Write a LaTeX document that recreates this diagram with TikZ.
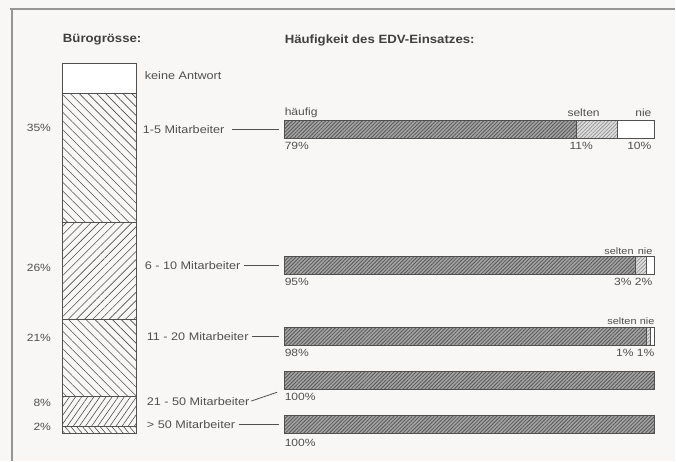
\documentclass[tikz,border=0pt]{standalone}
\usepackage{fontspec}
\setmainfont{Liberation Sans}
\newfontfamily\labelfont[FakeStretch=1.15]{Liberation Sans}
\newfontfamily\headfont[FakeStretch=1.1]{Liberation Sans}
\usetikzlibrary{positioning, patterns.meta}
\definecolor{paper}{RGB}{249,247,246}
\definecolor{ink}{RGB}{80,80,80}
\definecolor{rule}{RGB}{150,150,150}

\begin{document}
\begin{tikzpicture}[
    x=1pt, y=-1pt,
    every node/.style={inner sep=0pt, outer sep=0pt, text=ink},
    head/.style={anchor=west, text=black!75, font=\headfont\bfseries\fontsize{12}{14}\selectfont},
    group/.style={anchor=west, font=\labelfont\fontsize{11}{13}\selectfont},
    pct/.style={anchor=east, font=\labelfont\fontsize{10.5}{12}\selectfont},
    tag/.style={font=\labelfont\fontsize{10.5}{12}\selectfont},
    smalltag/.style={font=\labelfont\fontsize{9.5}{11}\selectfont},
    seg/.style={draw=ink, line width=1pt, minimum width=74pt},
    often/.style={draw=ink, line width=0.9pt, minimum height=18pt, preaction={fill=black!36}, pattern={Lines[angle=45, distance=2.6pt, line width=0.8pt]}, pattern color=black!65},
    rarely/.style={draw=ink, line width=0.9pt, minimum height=18pt, preaction={fill=black!14}, pattern={Lines[angle=45, distance=2.6pt, line width=0.6pt]}, pattern color=black!45},
    never/.style={draw=ink, line width=0.9pt, minimum height=18pt, fill=white},
    link/.style={draw=ink, line width=0.8pt, shorten <=4pt, shorten >=6pt}
]
\fill[paper] (0,0) rectangle (676,461);
\draw[rule, line width=1.2pt] (10,9) -- (676,9);
\draw[rule, line width=1.2pt] (12,9) -- (12,461);

\node[head] (t1) at (63,40) {Bürogrösse:};
\node[head] (t2) at (285,40) {Häufigkeit des EDV-Einsatzes:};

% column
\node[seg, minimum height=30pt, anchor=north west, fill=white] (c0) at (63,64) {};
\node[seg, minimum height=129pt, below=0pt of c0, pattern={Lines[angle=-45, distance=6.2pt, line width=0.6pt]}, pattern color=ink] (c1) {};
\node[seg, minimum height=97pt, below=0pt of c1, pattern={Lines[angle=45, distance=5.8pt, line width=0.6pt]}, pattern color=ink] (c2) {};
\node[seg, minimum height=77pt, below=0pt of c2, pattern={Lines[angle=-45, distance=6.2pt, line width=0.6pt]}, pattern color=ink] (c3) {};
\node[seg, minimum height=30pt, below=0pt of c3, pattern={Lines[angle=55, distance=5pt, line width=0.6pt]}, pattern color=ink] (c4) {};
\node[seg, minimum height=7pt, below=0pt of c4, pattern={Lines[angle=-50, distance=4.5pt, line width=0.6pt]}, pattern color=ink] (c5) {};

\node[pct] (p1) at (51,128) {35\%};
\node[pct] (p2) at (51,268) {26\%};
\node[pct] (p3) at (51,338) {21\%};
\node[pct] (p4) at (51,403) {8\%};
\node[pct] (p5) at (51,427) {2\%};

\node[group] (k0) at (145,76) {keine Antwort};
\node[group] (l1) at (143,130) {1-5 Mitarbeiter};
\node[group] (l2) at (145,266) {6 - 10 Mitarbeiter};
\node[group] (l3) at (147,337) {11 - 20 Mitarbeiter};
\node[group] (l4) at (147,402) {21 - 50 Mitarbeiter};
\node[group] (l5) at (147,425) {> 50 Mitarbeiter};

% bars
\node[often, minimum width=292pt, anchor=north west] (h1) at (285,121) {};
\node[rarely, minimum width=41pt, right=0pt of h1] (s1) {};
\node[never, minimum width=37pt, right=0pt of s1] (n1) {};
\node[often, minimum width=351pt, anchor=north west] (h2) at (285,257) {};
\node[rarely, minimum width=11pt, right=0pt of h2] (s2) {};
\node[never, minimum width=8pt, right=0pt of s2] (n2) {};
\node[often, minimum width=362pt, anchor=north west] (h3) at (285,328) {};
\node[rarely, minimum width=4pt, right=0pt of h3] (s3) {};
\node[never, minimum width=4pt, right=0pt of s3] (n3) {};
\node[often, minimum width=370pt, anchor=north west] (h4) at (285,372) {};
\node[often, minimum width=370pt, anchor=north west] (h5) at (285,416) {};

\node[tag, anchor=west] (a1) at (285,113) {häufig};
\node[tag, anchor=west] (b1) at (568,113) {selten};
\node[tag, anchor=east] (d1) at (652,113) {nie};
\node[tag, anchor=west] (e1) at (285,146) {79\%};
\node[tag, anchor=west] (f1) at (570,146) {11\%};
\node[tag, anchor=east] (g1) at (652,146) {10\%};

\node[smalltag, anchor=west] (b2) at (605,251) {selten};
\node[smalltag, anchor=east] (d2) at (653,251) {nie};
\node[tag, anchor=west] (e2) at (285,282) {95\%};
\node[tag, anchor=east] (g2) at (653,282) {3\% 2\%};

\node[smalltag, anchor=west] (b3) at (608,321) {selten};
\node[smalltag, anchor=east] (d3) at (655,321) {nie};
\node[tag, anchor=west] (e3) at (285,353) {98\%};
\node[tag, anchor=east] (g3) at (655,353) {1\% 1\%};

\node[tag, anchor=west] (e4) at (285,397) {100\%};
\node[tag, anchor=west] (e5) at (285,443) {100\%};

\draw[link, shorten <=8pt] (l1.east) -- (h1.west);
\draw[link] (l2.east) -- (h2.west);
\draw[link] (l3.east) -- (h3.west);
\draw[link, shorten <=2pt, shorten >=8pt] (l4.east) -- (h4.south west);
\draw[link] (l5.east) -- (h5.west);

\end{tikzpicture}
\end{document}
